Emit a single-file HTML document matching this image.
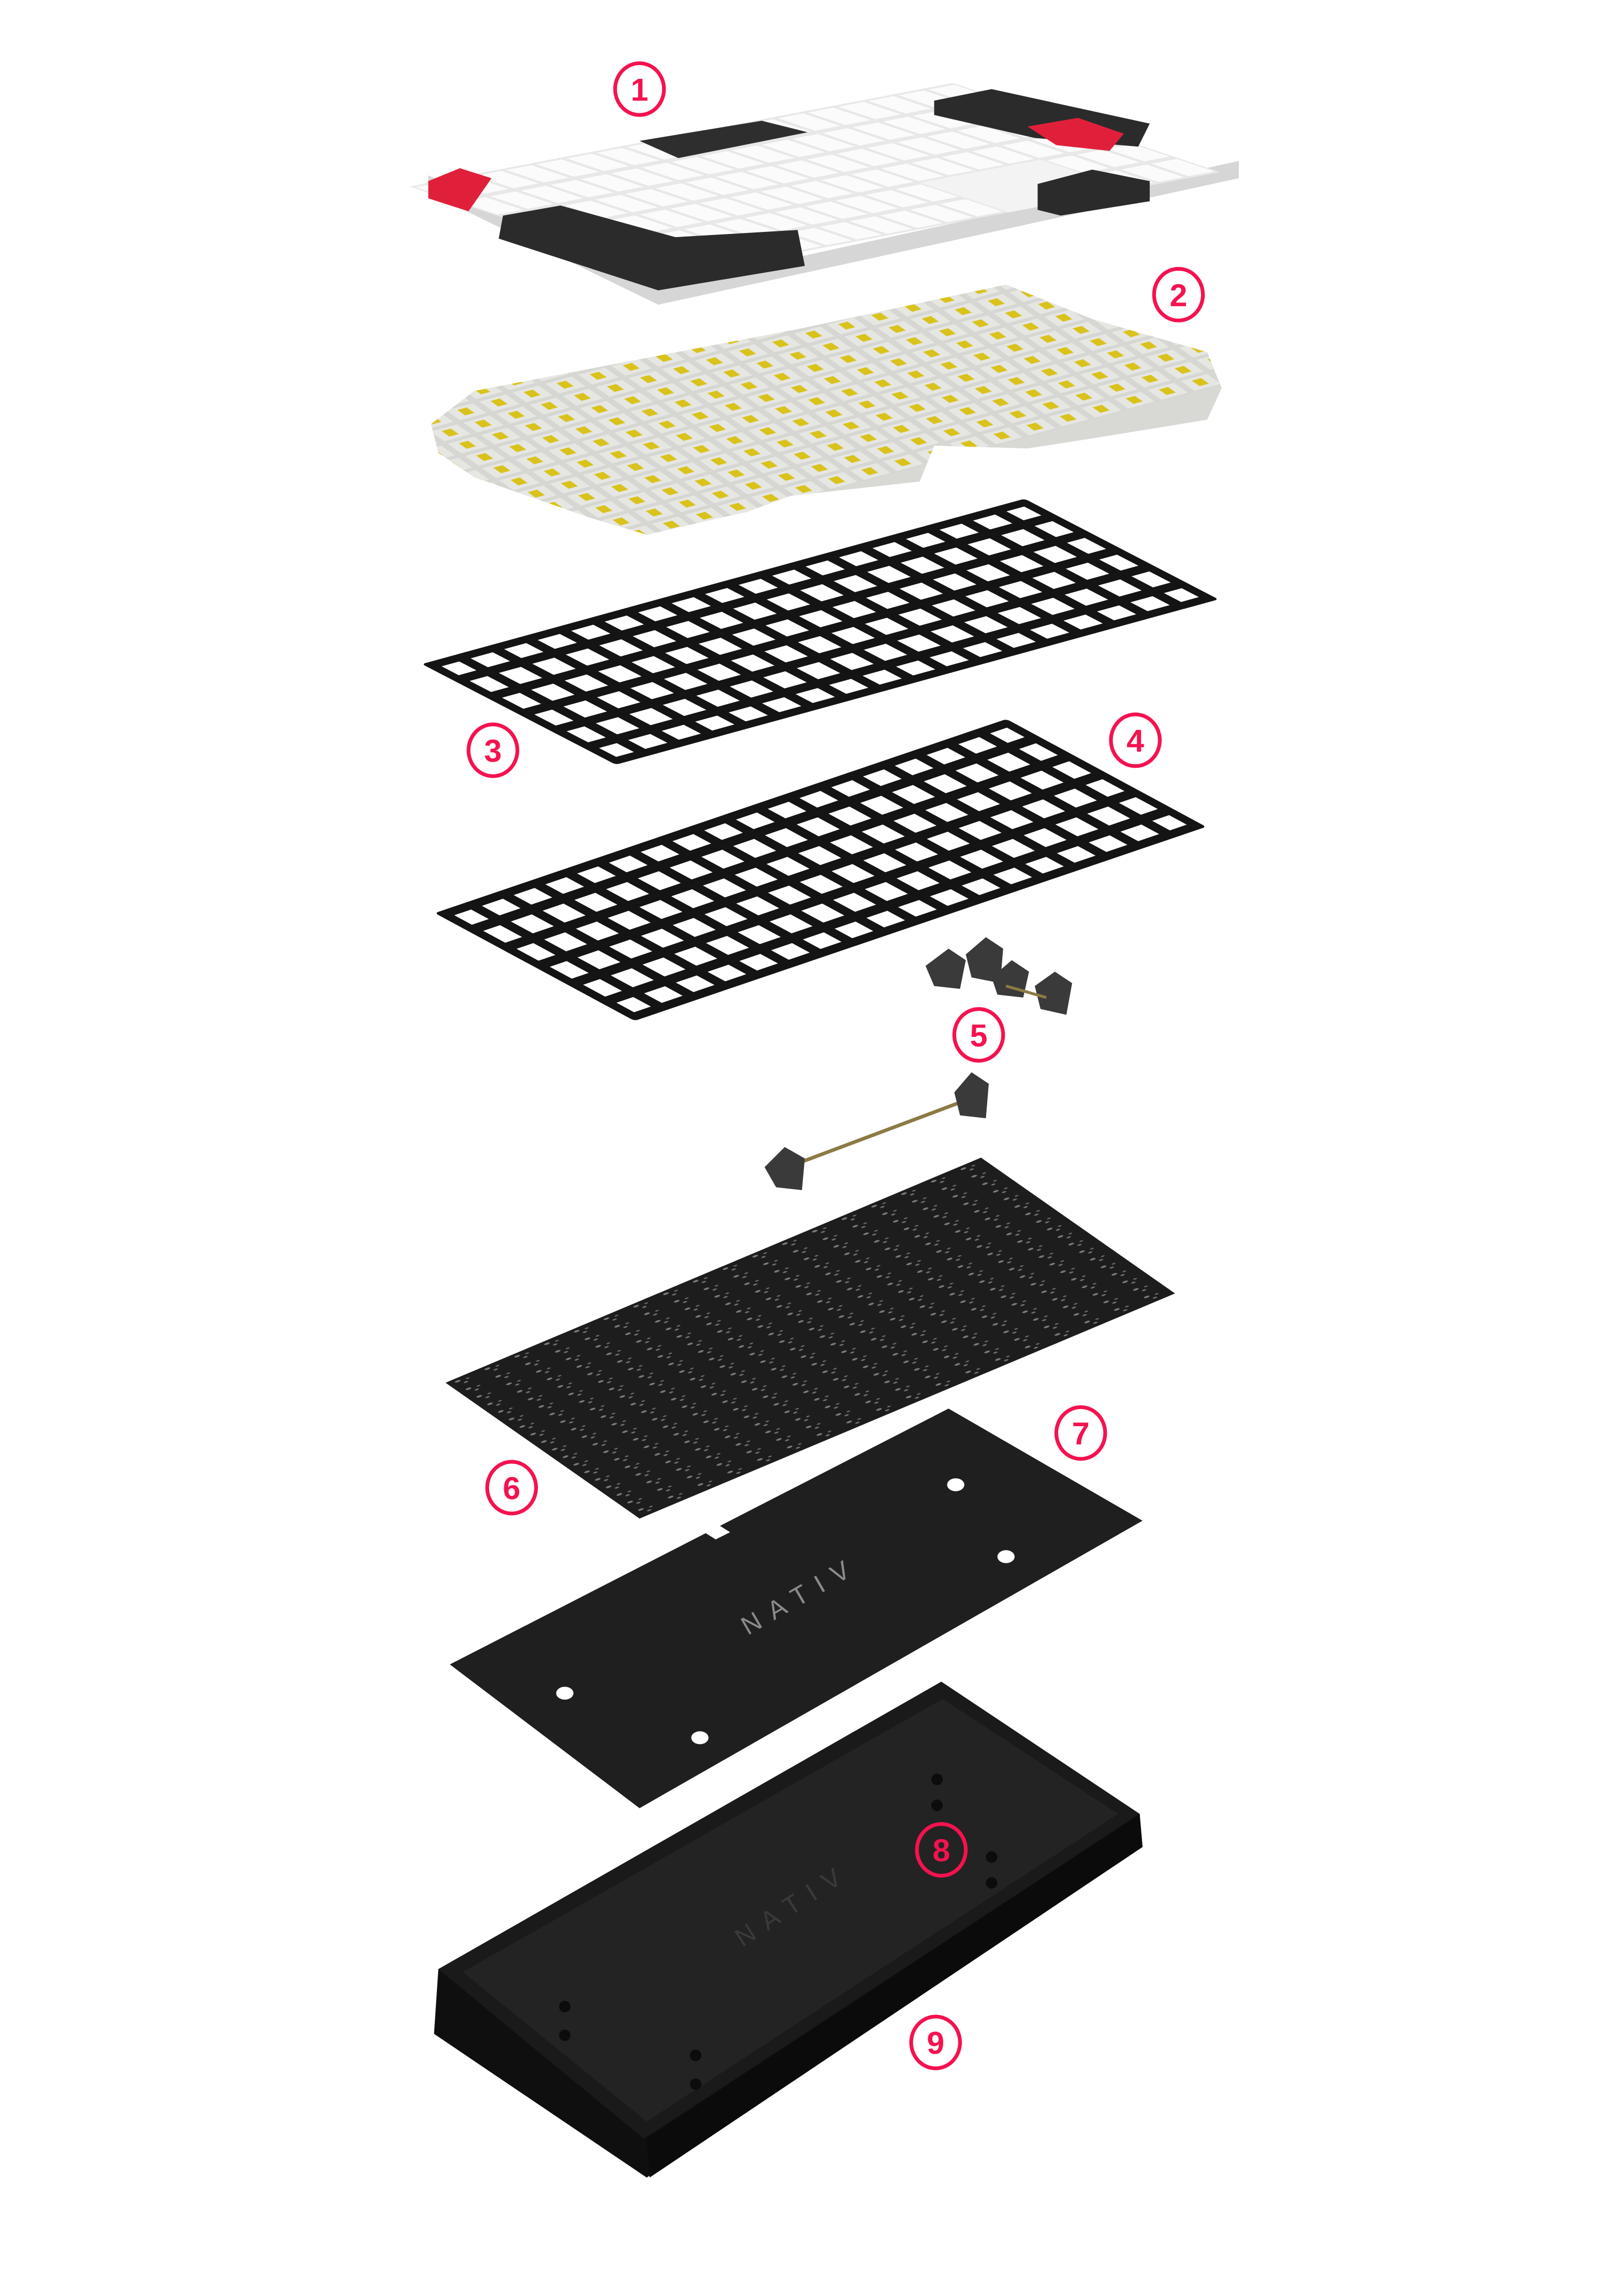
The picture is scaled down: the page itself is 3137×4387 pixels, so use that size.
<!DOCTYPE html>
<html><head><meta charset="utf-8"><style>
html,body{margin:0;padding:0;background:#fff;}
svg{display:block;}
</style></head><body>
<svg width="3137" height="4387" viewBox="0 0 1130 1580" preserveAspectRatio="none" xmlns="http://www.w3.org/2000/svg">
<defs>
  <pattern id="grid" width="10" height="10" patternUnits="userSpaceOnUse">
    <rect x="1.7" y="1.7" width="6.6" height="6.6" fill="#fff"/>
  </pattern>
  <pattern id="caps" width="10" height="10" patternUnits="userSpaceOnUse">
    <rect width="10" height="10" fill="#e8e8e8"/>
    <rect x="0.8" y="0.8" width="8.4" height="8.4" fill="#fbfbfb"/>
  </pattern>
  <pattern id="sw" width="10" height="10" patternUnits="userSpaceOnUse">
    <rect width="10" height="10" fill="#d6d6d2"/>
    <rect x="1" y="1" width="8" height="8" fill="#e6e6e2"/>
    <rect x="3.6" y="2.5" width="2.8" height="4.5" fill="#d9c21c"/>
  </pattern>
  <pattern id="pcb" width="10" height="10" patternUnits="userSpaceOnUse">
    <rect width="10" height="10" fill="#1d1d1d"/>
    <circle cx="3" cy="3" r="0.9" fill="#7a7a7a"/>
    <circle cx="6" cy="4" r="0.6" fill="#6a6a6a"/>
    <circle cx="4.5" cy="6.5" r="0.7" fill="#707070"/>
  </pattern>
</defs>

<!-- 1 keycaps -->
<g>
  <polygon points="298,122 298,134 458,212 862,124 862,112 458,200" fill="#d6d6d6"/>
  <g transform="matrix(2.1,-0.4,3.1,1.033,285,129.75)">
    <rect x="0" y="0" width="180" height="60" fill="url(#caps)"/>
    <rect x="110" y="40" width="40" height="20" fill="#f3f3f3"/>
  </g>
  <polygon points="350,150 390,143 470,165 555,160 560,185 458,202 347,166" fill="#2b2b2b"/>
  <polygon points="445,98 530,84 562,92 472,110" fill="#2e2e2e"/>
  <polygon points="650,70 690,62 800,86 792,102 720,96 650,80" fill="#2b2b2b"/>
  <polygon points="715,88 750,82 782,93 772,105 735,101" fill="#e0203a"/>
  <polygon points="722,128 760,118 800,126 800,140 738,150 722,146" fill="#2b2b2b"/>
  <polygon points="298,126 320,117 342,124 326,147 298,138" fill="#e0203a"/>
</g>

<!-- 2 switches -->
<clipPath id="swclip"><polygon points="300,295 330,272 560,228 700,198 760,222 840,245 850,270 840,292 760,305 715,312 650,310 640,335 550,345 520,356 450,372 410,360 330,332 305,315"/></clipPath>
<g clip-path="url(#swclip)">
  <rect x="290" y="190" width="570" height="190" fill="#d8d8d4"/>
  <g transform="matrix(2.3,-0.62,1.2,0.85,296,300)">
    <rect x="-40" y="-60" width="260" height="160" fill="url(#sw)"/>
  </g>
</g>

<!-- 3 plate -->
<g transform="matrix(2.33,-0.639,2.25,1.167,293.5,462)">
  <rect x="0" y="0" width="180" height="60" fill="#141414" rx="1"/>
  <rect x="3" y="3" width="174" height="54" fill="url(#grid)"/>
</g>

<!-- 4 plate -->
<g transform="matrix(2.21,-0.75,2.317,1.25,302.5,635.25)">
  <rect x="0" y="0" width="180" height="60" fill="#141414" rx="1"/>
  <rect x="3" y="3" width="174" height="54" fill="url(#grid)"/>
</g>

<!-- 5 stabilizers -->
<g fill="#3a3a3a">
  <polygon points="644,672 660,660 672,668 668,688 650,686"/>
  <polygon points="672,664 686,652 698,660 696,684 676,680"/>
  <polygon points="690,680 704,668 716,676 712,694 694,692"/>
  <polygon points="720,686 734,676 746,684 742,706 724,702"/>
  <line x1="700" y1="686" x2="728" y2="694" stroke="#8c7a45" stroke-width="2"/>
  <line x1="548" y1="812" x2="676" y2="764" stroke="#8c7a45" stroke-width="2.5"/>
  <polygon points="532,812 546,798 560,806 558,828 540,826"/>
  <polygon points="664,760 676,746 688,754 686,778 668,776"/>
</g>

<!-- 6 PCB -->
<g transform="matrix(2.07,-0.87,0.75,0.525,310,962)">
  <rect x="0" y="0" width="180" height="180" fill="url(#pcb)"/>
</g>

<!-- 7 bottom plate -->
<polygon points="313,1158 660,980 795,1058 445,1258" fill="#1f1f1f"/>
<polygon points="490,1066 500,1061 508,1066 498,1071" fill="#fff"/>
<ellipse cx="665" cy="1033" rx="6" ry="4.5" fill="#fff"/>
<ellipse cx="700" cy="1083" rx="6" ry="4.5" fill="#fff"/>
<ellipse cx="393" cy="1178" rx="6" ry="4.5" fill="#fff"/>
<ellipse cx="487" cy="1209" rx="6" ry="4.5" fill="#fff"/>
<text x="560" y="1115" transform="rotate(-30 560 1115)" font-family="Liberation Sans, sans-serif" font-size="18" letter-spacing="8" fill="#8a8a8a" text-anchor="middle">NATIV</text>

<!-- 9 case -->
<polygon points="305,1370 655,1170 793,1262 795,1285 450,1515 302,1415" fill="#0f0f0f"/>
<polygon points="305,1370 655,1170 793,1262 448,1488" fill="#1a1a1a"/>
<polygon points="322,1372 656,1182 778,1262 450,1476" fill="#232323"/>
<polygon points="450,1488 793,1262 795,1285 452,1515" fill="#0b0b0b"/>
<text x="555" y="1330" transform="rotate(-33 555 1330)" font-family="Liberation Sans, sans-serif" font-size="18" letter-spacing="8" fill="#3a3a3a" text-anchor="middle">NATIV</text>
<g fill="#0c0c0c">
  <circle cx="652" cy="1238" r="4"/><circle cx="652" cy="1256" r="4"/>
  <circle cx="690" cy="1292" r="4"/><circle cx="690" cy="1310" r="4"/>
  <circle cx="393" cy="1396" r="4"/><circle cx="393" cy="1416" r="4"/>
  <circle cx="484" cy="1430" r="4"/><circle cx="484" cy="1450" r="4"/>
</g>

<!-- labels -->
<g fill="none" stroke="#f5124f" stroke-width="2.6">
  <ellipse cx="445" cy="62" rx="17" ry="18"/>
  <ellipse cx="820" cy="205" rx="17" ry="18"/>
  <ellipse cx="343" cy="522" rx="17" ry="18"/>
  <ellipse cx="790" cy="515" rx="17" ry="18"/>
  <ellipse cx="681" cy="720" rx="17" ry="18"/>
  <ellipse cx="356" cy="1035" rx="17" ry="18"/>
  <ellipse cx="752" cy="997" rx="17" ry="18"/>
  <ellipse cx="655" cy="1287" rx="17" ry="18"/>
  <ellipse cx="651" cy="1421" rx="17" ry="18"/>
</g>
<g fill="#f5124f" font-family="Liberation Sans, sans-serif" font-weight="bold" font-size="22" text-anchor="middle">
  <text x="445" y="70">1</text>
  <text x="820" y="213">2</text>
  <text x="343" y="530">3</text>
  <text x="790" y="523">4</text>
  <text x="681" y="728">5</text>
  <text x="356" y="1043">6</text>
  <text x="752" y="1005">7</text>
  <text x="655" y="1295">8</text>
  <text x="651" y="1429">9</text>
</g>
</svg>
</body></html>
